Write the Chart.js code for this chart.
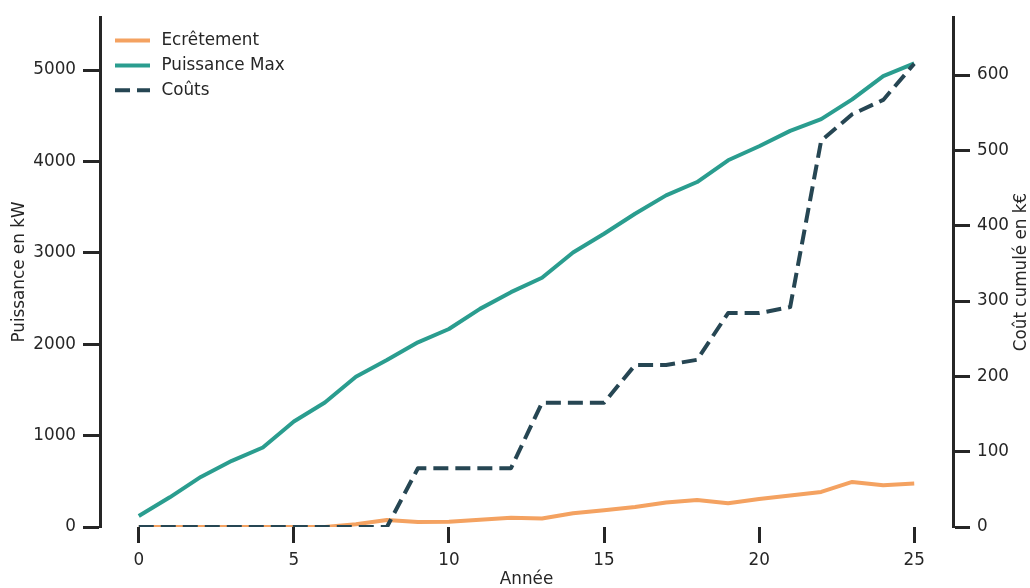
<!DOCTYPE html>
<html>
<head>
<meta charset="utf-8">
<script src="https://cdn.jsdelivr.net/npm/chart.js@4/dist/chart.umd.min.js"></script>
<style>
  html, body { margin: 0; padding: 0; background: #ffffff; }
  #wrap { width: 1030px; height: 588px; position: relative; }
</style>
</head>
<body>
<div id="wrap"><canvas id="c"></canvas></div>
<script>
// ---- data ----
const years = [0,1,2,3,4,5,6,7,8,9,10,11,12,13,14,15,16,17,18,19,20,21,22,23,24,25];
const ecretement = [0,0,0,0,0,0,0,30,77,55,58,80,100,93,150,183,219,267,296,260,307,344,384,493,457,475];
const puissanceMax = [120,325,548,724,870,1155,1363,1645,1827,2021,2167,2387,2570,2727,3004,3209,3428,3629,3775,4013,4167,4335,4463,4679,4934,5073];
const couts = [0,0,0,0,0,0,0,0,0,78,78,78,78,165,165,165,215,215,222,284,284,292,513,548,567,615];
const xTicks = [0,5,10,15,20,25];
const leftTicks = [0,1000,2000,3000,4000,5000];
const rightTicks = [0,100,200,300,400,500,600];
const seriesNames = ['Ecrêtement','Puissance Max','Coûts'];
const axisTitles = { x: 'Année', left: 'Puissance en kW', right: 'Coût cumulé en k€' };

const INK = '#262626';
const FONT = { family: 'DejaVu Sans', size: 16.8 };
const colors = ['#F4A261', '#2A9D8F', '#264653'];

const pts = arr => years.map((x, i) => ({ x, y: arr[i] }));
const plain = v => String(v);

const overlayPlugin = {
  id: 'overlay',
  afterDraw(chart) {
    const ctx = chart.ctx;
    const ca = chart.chartArea;
    ctx.save();
    ctx.font = `${FONT.size}px "${FONT.family}"`;
    // legend inside the plot (upper left)
    const x0 = ca.left + 15, x1 = ca.left + 50, tx = ca.left + 61.5;
    const y0 = ca.top + 23.5, dy = 24.8;
    ctx.textBaseline = 'middle';
    ctx.textAlign = 'left';
    seriesNames.forEach((name, i) => {
      const ds = chart.data.datasets[i];
      const y = y0 + i * dy;
      ctx.beginPath();
      ctx.strokeStyle = ds.borderColor;
      ctx.lineWidth = ds.borderWidth;
      ctx.lineCap = 'butt';
      ctx.setLineDash(ds.borderDash || []);
      ctx.moveTo(x0, y);
      ctx.lineTo(x1, y);
      ctx.stroke();
      ctx.setLineDash([]);
      ctx.fillStyle = INK;
      ctx.fillText(name, tx, y);
    });
    // right axis title, reading bottom-to-top
    ctx.translate(1021.5, (ca.top + ca.bottom) / 2);
    ctx.rotate(-Math.PI / 2);
    ctx.textAlign = 'center';
    ctx.fillStyle = INK;
    ctx.fillText(axisTitles.right, 0, 0);
    ctx.restore();
  }
};

new Chart(document.getElementById('c'), {
  type: 'line',
  data: {
    datasets: [
      { label: seriesNames[0], data: pts(ecretement), yAxisID: 'y', borderColor: colors[0], backgroundColor: colors[0], borderWidth: 4, pointRadius: 0, tension: 0, order: 2, borderJoinStyle: 'round' },
      { label: seriesNames[1], data: pts(puissanceMax), yAxisID: 'y', borderColor: colors[1], backgroundColor: colors[1], borderWidth: 4, pointRadius: 0, tension: 0, order: 1, borderJoinStyle: 'round' },
      { label: seriesNames[2], data: pts(couts), yAxisID: 'y1', borderColor: colors[2], backgroundColor: colors[2], borderWidth: 4, borderDash: [15, 7], borderCapStyle: 'butt', pointRadius: 0, tension: 0, order: 0, borderJoinStyle: 'round' }
    ]
  },
  options: {
    responsive: true,
    maintainAspectRatio: false,
    devicePixelRatio: 1,
    animation: false,
    layout: { padding: { top: 16, left: 0, right: 0, bottom: 0 } },
    plugins: { legend: { display: false }, tooltip: { enabled: false } },
    scales: {
      x: {
        type: 'linear',
        min: -1.25, max: 26.25,
        afterBuildTicks: s => { s.ticks = xTicks.map(v => ({ value: v })); },
        afterFit: s => { s.height = 61; },
        border: { display: false },
        grid: { display: true, drawOnChartArea: false, drawTicks: true, tickLength: 16, tickWidth: 3, tickColor: INK },
        ticks: { color: INK, font: FONT, padding: 8, maxRotation: 0, callback: plain },
        title: { display: true, text: axisTitles.x, color: INK, font: FONT, padding: { top: 0, bottom: -2 } }
      },
      y: {
        type: 'linear', position: 'left',
        min: 0, max: 5580,
        afterBuildTicks: s => { s.ticks = leftTicks.map(v => ({ value: v })); },
        afterFit: s => { s.width = 100; },
        border: { display: true, color: INK, width: 3 },
        grid: { display: true, drawOnChartArea: false, drawTicks: true, tickLength: 17, tickWidth: 3, tickColor: INK },
        ticks: { color: INK, font: FONT, padding: 7, callback: plain },
        title: { display: true, text: axisTitles.left, color: INK, font: FONT, padding: { top: 9.6, bottom: 0 } }
      },
      y1: {
        type: 'linear', position: 'right',
        min: 0, max: 677,
        afterBuildTicks: s => { s.ticks = rightTicks.map(v => ({ value: v })); },
        afterFit: s => { s.width = 77; },
        border: { display: true, color: INK, width: 3 },
        grid: { display: true, drawOnChartArea: false, drawTicks: true, tickLength: 17, tickWidth: 3, tickColor: INK },
        ticks: { color: INK, font: FONT, padding: 7, callback: plain },
        title: { display: false }
      }
    }
  },
  plugins: [overlayPlugin]
});
</script>
</body>
</html>
